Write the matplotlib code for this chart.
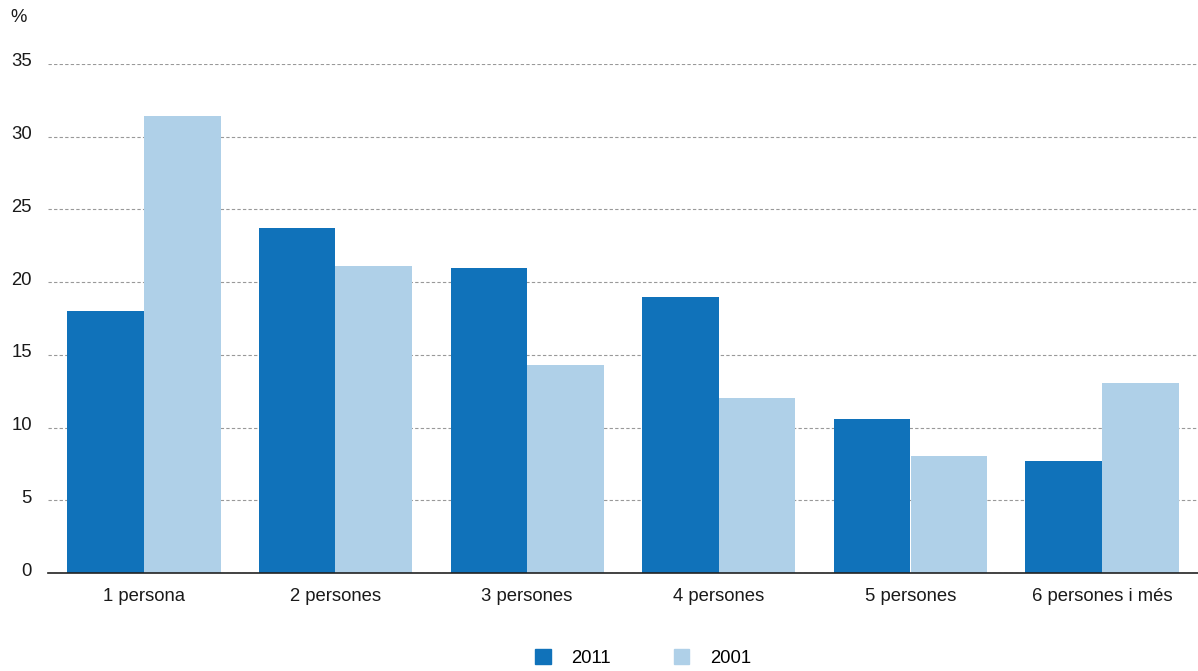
import numpy as np
import matplotlib
matplotlib.use('Agg')
import matplotlib.pyplot as plt
import matplotlib.transforms as mtransforms
from matplotlib.patches import Patch

plt.rcParams['font.family'] = ['Liberation Sans', 'DejaVu Sans']

# data
categories = ['1 persona', '2 persones', '3 persones', '4 persones', '5 persones', '6 persones i més']
vals_2011 = [18.0, 23.7, 21.0, 19.0, 10.6, 7.7]
vals_2001 = [31.4, 21.1, 14.3, 12.0, 8.05, 13.05]
series_names = ['2011', '2001']
yticks = [0, 5, 10, 15, 20, 25, 30, 35]

c2011 = '#1072ba'
c2001 = '#afd0e8'
fs = 13.3

fig = plt.figure(figsize=(11.98, 6.71), dpi=100)
ax = fig.add_axes([48/1198, 1 - 573/671, 1 - 48/1198, (573 - 64)/671])

x = np.arange(len(categories))
w = 0.40
ax.bar(x - w/2, vals_2011, w, color=c2011, zorder=3)
ax.bar(x + w/2, vals_2001, w, color=c2001, zorder=3)

ax.set_xlim(-0.5, len(categories) - 0.5)
ax.set_ylim(0, 35)
ax.set_yticks(yticks)
ax.set_xticks(x)
ax.set_xticklabels(categories, fontsize=fs, color='#1a1a1a')
ax.tick_params(axis='y', length=0, pad=11.5, labelsize=fs, labelcolor='#1a1a1a')
ax.tick_params(axis='x', length=0, pad=11)
# y labels sit a little above their gridlines
shift = mtransforms.ScaledTranslation(0, 4/100, fig.dpi_scale_trans)
for t in ax.get_yticklabels():
    t.set_horizontalalignment('right')
    t.set_transform(t.get_transform() + shift)

ax.grid(axis='y', linestyle=(0, (3, 2)), color='#999999', linewidth=0.8, zorder=0)
for s in ['top', 'right', 'left']:
    ax.spines[s].set_visible(False)
ax.spines['bottom'].set_color('#222222')
ax.spines['bottom'].set_linewidth(1.2)
ax.spines['bottom'].set_zorder(4)

fig.text(10/1198, 1 - 18/671, '%', fontsize=fs, color='#1a1a1a', va='center', ha='left')

handles = [Patch(color=c2011, label=series_names[0]), Patch(color=c2001, label=series_names[1])]
fig.legend(handles=handles, loc='center', bbox_to_anchor=(643/1198, 1 - 658/671), ncol=2,
           frameon=False, fontsize=fs, handlelength=0.85, handleheight=0.85,
           handletextpad=1.1, columnspacing=3.4)

fig.savefig('out.png', dpi=100)
